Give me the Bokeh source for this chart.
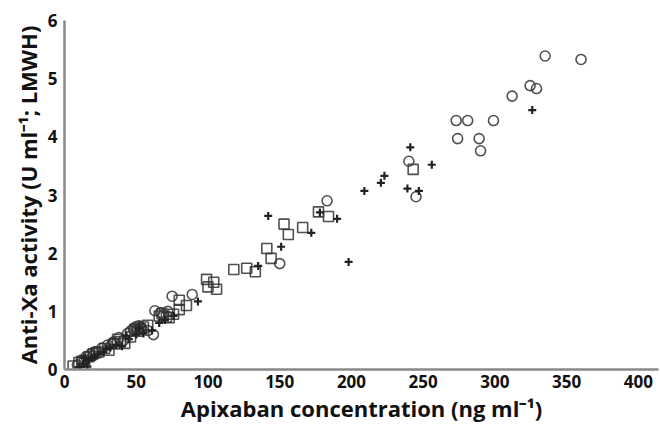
from bokeh.plotting import figure
from bokeh.models import Range1d, FixedTicker
from bokeh.embed import file_html
from bokeh.resources import INLINE

# Circles
circ_x = [9, 12, 15, 18, 22, 26, 30, 34, 38, 41, 44, 48, 50, 52, 54, 58, 62, 63, 67, 75, 89,
          20, 33, 46, 53, 69, 72,
          150, 183, 240, 245, 273, 281, 299, 274, 289, 290, 312, 324.5, 329, 335, 360]
circ_y = [0.08, 0.15, 0.22, 0.26, 0.31, 0.37, 0.42, 0.47, 0.55, 0.50, 0.62, 0.70, 0.74, 0.75, 0.70, 0.67, 0.60, 1.01, 0.98, 1.26, 1.29,
          0.24, 0.44, 0.66, 0.72, 0.94, 1.00,
          1.82, 2.90, 3.58, 2.97, 4.28, 4.28, 4.28, 3.97, 3.97, 3.76, 4.70, 4.88, 4.83, 5.39, 5.33]

# Squares
sq_x = [6, 10, 14, 17, 20, 24, 28, 31, 35, 39, 42, 46, 51, 53, 58, 66, 68, 71, 73, 76, 80, 80, 85,
        12, 22, 37, 49, 55,
        99, 104, 100, 106, 118, 127, 133, 141, 144, 153, 156, 166, 177, 184, 243]
sq_y = [0.06, 0.12, 0.16, 0.22, 0.27, 0.30, 0.36, 0.33, 0.44, 0.48, 0.45, 0.56, 0.66, 0.70, 0.76, 0.92, 0.96, 0.90, 0.89, 0.95, 1.19, 1.03, 1.10,
        0.14, 0.29, 0.52, 0.69, 0.73,
        1.55, 1.50, 1.42, 1.38, 1.72, 1.74, 1.68, 2.08, 1.91, 2.50, 2.32, 2.44, 2.71, 2.63, 3.44]

# Plus signs
pl_x = [10, 13, 16, 17, 19, 23, 27, 32, 36, 40, 45, 50, 55, 61, 66, 70, 76, 93,
        14, 21, 29, 43, 52,
        135, 142, 151, 172, 178, 190, 198, 209, 220.5, 223, 239, 241, 247, 256, 326]
pl_y = [0.04, 0.10, 0.05, 0.16, 0.20, 0.26, 0.30, 0.38, 0.42, 0.40, 0.52, 0.60, 0.62, 0.67, 0.80, 0.85, 0.92, 1.17,
        0.20, 0.22, 0.35, 0.58, 0.71,
        1.78, 2.64, 2.11, 2.35, 2.70, 2.59, 1.85, 3.07, 3.21, 3.33, 3.11, 3.82, 3.07, 3.52, 4.46]

x_ticks = [0, 50, 100, 150, 200, 250, 300, 350, 400]
y_ticks = [0, 1, 2, 3, 4, 5, 6]

p = figure(width=660, height=428, output_backend="svg", toolbar_location=None,
           x_range=Range1d(0, 414), y_range=Range1d(0, 6),
           min_border_left=64, min_border_top=20, min_border_bottom=59, min_border_right=2)
p.outline_line_color = None
p.grid.visible = False
p.background_fill_color = "white"

ink = "#333333"
p.scatter(circ_x, circ_y, marker="circle", size=10, fill_color=None, line_color=ink, line_width=1.6, line_alpha=0.85)
p.scatter(sq_x, sq_y, marker="square", size=10, fill_color=None, line_color=ink, line_width=1.6, line_alpha=0.85)
p.scatter(pl_x, pl_y, marker="cross", size=8, line_color="#222222", line_width=2.2)

p.xaxis.ticker = FixedTicker(ticks=x_ticks)
p.yaxis.ticker = FixedTicker(ticks=y_ticks)
for ax in (p.xaxis, p.yaxis):
    ax.major_tick_line_color = None
    ax.minor_tick_line_color = None
    ax.major_tick_out = 0
    ax.major_tick_in = 0
    ax.minor_tick_out = 0
    ax.axis_line_color = "#888888"
    ax.axis_line_width = 2.5
    ax.major_label_text_font = "Open Sans"
    ax.major_label_text_font_style = "bold"
    ax.major_label_text_font_size = "17px"
    ax.major_label_text_color = "#111111"
    ax.axis_label_text_font = "Open Sans"
    ax.axis_label_text_font_style = "bold"
    ax.axis_label_text_font_size = "22px"
    ax.axis_label_text_color = "#111111"

p.xaxis.axis_label = "Apixaban concentration (ng ml⁻¹)"
p.yaxis.axis_label = "Anti-Xa activity (U ml⁻¹; LMWH)"
p.xaxis.major_label_standoff = 5
p.yaxis.major_label_standoff = 7
p.xaxis.axis_label_standoff = 2
p.yaxis.axis_label_standoff = 2

open("out.html", "w").write(file_html(p, INLINE))
